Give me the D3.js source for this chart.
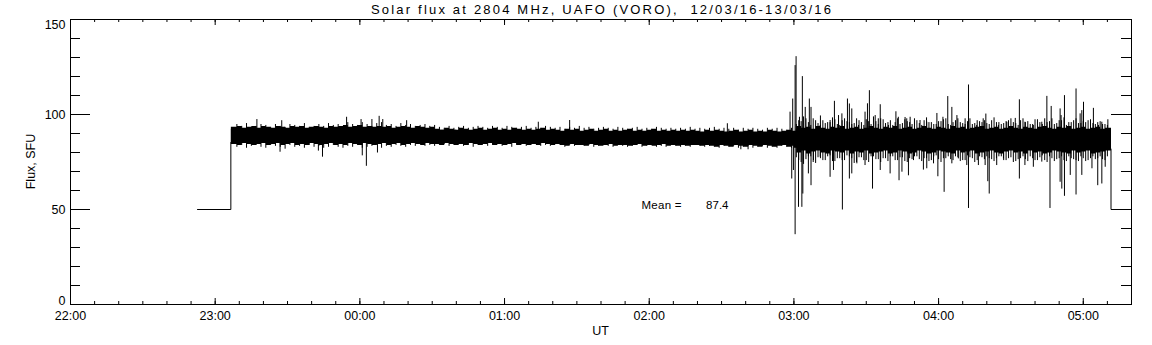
<!DOCTYPE html>
<html><head><meta charset="utf-8">
<script src="https://cdn.jsdelivr.net/npm/d3@7"></script>
<style>
body{margin:0;background:#fff;}
svg text{font-family:"Liberation Sans",Arial,sans-serif;fill:#000;white-space:pre;}
</style></head><body>
<svg id="c" width="1152" height="345"></svg>
<script>
// ---------------- data ----------------
const title = "Solar flux at 2804 MHz, UAFO (VORO),  12/03/16-13/03/16";
const yTitle = "Flux, SFU";
const xTitle = "UT";
const meanText = "Mean =";
const meanValue = 87.4;
const yMajorTicks = [0, 50, 100, 150];
const yMinorStep = 10;
const startUTC = Date.UTC(2016, 2, 12, 22, 0);   // 22:00 UT, 12/03/16
const endMinutes = 440;                           // 05:20 UT
// reference level (before / after the observation), minutes after 22:00
const offLevel = 50;
const offBefore = [52.5, 66.5];
const offAfter = [431.5, 440];
const obsStart = 66.5, obsEnd = 431.5;
// solid core of the noise band, per 10-minute bin starting at minute 60 (23:00)
const coreBinStart = 60, coreBinStep = 10;
const coreHigh = [92.5,92.5,92,92.5,92.5,92.5,93,92.5,92,92,
                  91.5,91.5,91.5,91.5,91,91,91,90.5,90.5,90.5,
                  90.5,90.5,90,90,91,90.5,90.5,90.5,91,90.5,
                  90,90.5,90.5,90,90.5,90,90.5,90.5];
const coreLow  = [85.5,85.5,85.5,85,85.5,85.5,85,85.5,85.5,85.5,
                  85.5,85.5,85,85.5,85,85,85,84.5,84.5,84.5,
                  84.5,84.5,84.5,84.5,82.5,83,82.5,82.5,82,82.5,
                  82,82,81.5,82,82,81.5,82,82];
// outer edge of the dense band, per 2-minute bin from minute 68 (23:08)
const edgeStart = 68, edgeStep = 2;
const edgeHigh = [
 93.5,94,93,93.5,94,93,94,93.5,93,94, 93.5,93,94,93.5,94,93,93.5,94,93.5,93,
 94,93.5,94,94.5,93.5,94,94.5,93.5,94,93.5, 94,93.5,94,93,93.5,94,93.5,93,94,93.5,
 93,93.5,
 92.5,92,93,92.5,92,93,92.5,92,92.5,93, 92,92.5,93,92,92.5,92,93,92.5,92,92.5,
 92,92.5,93,92,92.5,92,91.5,92.5,92,92.5, 91.5,92,92.5,91.5,92,92.5,91.5,92,91.5,92,
 92.5,91.5,92,91.5,92,92.5,91.5,92,91.5,92, 91.5,92,91.5,92,91.5,91,92,91.5,92,91.5,
 91,91.5,92,91,91.5,92,91,91.5,91,92, 91.5,91,91.5,92,91.5,
 94,93,93.5,92.5,94,93,92.5,93.5,93,94, 92.5,93,93.5,92.5,93,94,93,92.5,93.5,93,
 94,92.5,93,93.5,92.5,93,94,93,92.5,93.5, 93,92.5,94,93,93.5,92.5,93,93.5,94,92.5,
 93,93.5,92.5,93,94,93,92.5,93.5,93,92.5, 93.5,94,93,92.5,93.5,93,94,92.5,93,93.5,
 92.5,93,93.5,92.5,93];
const edgeLow = [
 84.5,84,85,84.5,84,84.5,85,84,84.5,85, 84,84.5,85,84,84.5,84,85,84.5,84,84.5,
 85,84,84.5,84,85,84.5,84,85,84.5,84, 84.5,85,84,84.5,85,84,84.5,85,84.5,84,
 85,84.5,
 84.5,84,85,84.5,84,84.5,84,85,84.5,84, 84.5,85,84,84.5,84,84.5,85,84,84.5,84,
 84.5,84,85,84.5,84,84.5,84,83.5,84.5,84, 84,83.5,84.5,84,83.5,84,84.5,83.5,84,84,
 83.5,84,84.5,83.5,84,83.5,84,84.5,83.5,84, 83.5,84,83.5,84,84,83.5,84,83.5,83,84,
 83.5,83,84,83.5,83,84,83.5,83,84,83.5, 83,83.5,84,83,83.5,
 80,81,79.5,80.5,81,80,79.5,81,80.5,80, 81,79.5,80.5,80,81,79.5,80,80.5,81,79.5,
 80,81,80.5,79.5,80,81,80.5,79.5,80,81, 80.5,80,79.5,81,80,80.5,81,79.5,80,80.5,
 81,80,79.5,80.5,81,80,80.5,79.5,81,80, 80.5,79.5,80,81,80.5,80,79.5,81,80,80.5,
 81,79.5,80,80.5,81];
// ragged tips of the quiet band, per 2 minutes from minute 69 (23:09) to 03:00
const tipStart = 69, tipStep = 2;
const tipHigh = [
 95,94,95.5,93.5,94,95,94.5,93.5,95,94, 93.5,95,94.5,94,95.5,93.5,94,95,94,95.5,
 94.5,95,94,96,95,94.5,96,95,94,95.5, 96,94.5,95,94,95.5,94.5,95,94,94.5,95,
 94,94.5,
 93.5,93,94,93,93.5,94,93,93.5,94,93.5, 93,94,93.5,93,94,93.5,93,93.5,94,93,
 93.5,93,94,93.5,93,93.5,92.5,93.5,93,94, 93,93.5,92.5,93,93.5,93,92.5,93.5,93,92.5,
 93,93.5,92.5,93,92.5,93.5,93,92.5,93,92.5, 93,92.5,93.5,92.5,93,92.5,93,93.5,92.5,93,
 92.5,93,92,93,92.5,93,92.5,92,93,92.5, 93,92.5,92,93,92.5];
const tipLow = [
 83,84,82.5,83.5,84,83,82.5,84,83.5,83, 82,84,83,83.5,82.5,84,83,83.5,82.5,83,
 84,83,82.5,83.5,83,84,82.5,83,83.5,84, 82.5,83.5,83,84,83.5,83,84,83.5,84.5,83.5,
 84,83.5,
 84,84.5,83.5,84,84.5,83.5,84,83,84,84.5, 83.5,84,84.5,83.5,84,83,84,84.5,83.5,84,
 84.5,83.5,84,83.5,84.5,84,83,84,83.5,84, 83.5,84,83,83.5,84,83.5,83,84,83.5,83,
 83.5,84,83,83.5,84,83,83.5,83,84,83.5, 83,83.5,83,84,83.5,83,83.5,83,82.5,83.5,
 83,83.5,82.5,83,83.5,82.5,83,83.5,82.5,83, 82.5,83.5,83,82.5,83];
// per-minute excursions during the active period, from minute 301 (03:01)
const burstStart = 301, burstStep = 1;
const burstHigh = [
 95,97, 96.5,99, 98,96, 94.5,98, 97,95.5, 99.5,97, 95.5,96, 96,98.5, 97.5,95, 94.5,97,
 98,96.5, 96,95, 95.5,98, 97,96, 94.5,97.5, 96.5,95, 99,96.5, 95,98, 97.5,95.5, 96,97,
 94.5,96, 98,95, 95.5,97.5, 96.5,96, 95,98, 97,95.5, 94.5,97, 98.5,96, 96,95, 95,96.5,
 96.5,97.5, 98,95, 94.5,96, 97,98, 96,95.5, 95,96.5, 98,95, 95.5,97, 96.5,96, 97,95.5,
 95,97, 98.5,96, 96,95, 95.5,96.5, 97,98, 96,95.5, 94.5,97, 98,96, 96.5,95, 95,97.5,
 97.5,96, 95,98, 96,96.5, 98,95, 95.5,97, 97,98.5, 94.5,96, 96,97, 98,95.5, 95.5,96.5,
 96,97, 97.5,95.5, 95,96, 96.5,95, 95,94.5];
const burstLow = [
 77.5,76, 75,74, 76.5,78, 78,75, 74.5,77.5, 77,76, 76,78, 78.5,75.5, 75.5,77, 77,76,
 76,78.5, 78,77, 74.5,75, 77.5,77.5, 76,76, 75,78, 78,76.5, 76.5,75, 77,77, 75.5,78,
 78,76, 76,77.5, 77.5,75.5, 75,77, 76.5,78, 78,76.5, 75.5,77, 77,75.5, 76,78, 78.5,76.5,
 75,77, 77,78, 76.5,76, 78,77.5, 75.5,76, 76,78.5, 77.5,77, 75,76, 78,77.5, 76.5,78,
 77,76.5, 75.5,77, 78,78, 76,76, 77,77.5, 75,75.5, 76.5,77, 78,76.5, 75.5,78, 77,76,
 76,77.5, 78.5,76, 75,78, 77,75.5, 76.5,77, 78,76, 75.5,78, 77,76.5, 76,75.5, 78,77,
 75.5,76, 77,78, 76.5,77, 78,76.5, 76,78];
// individual spikes: minutes after 22:00 and flux value
const spikeMinutes = [
 77.3,87.6,114.5,120.5,125,128,129.5,139.4,194,207,272.4,
 86.9,102.8,104.5,121,122.7,127.3,278,281,
 298.4,299.5,300.5,300.9,302.3,303.5,304.7,306.4,307.1,310.9,315,316.8,318.5,319.9,322.2,323,324,326.8,
 329.5,330.5,331.3,333.7,335,335.8,339.2,342.3,343.3,346.1,346.8,348.2,352.3,355.1,359.3,361.8,363.8,
 365.5,367.6,371,372.4,375.8,378.5,379.6,384.8,388.3,391.8,393.5,395.8,399.3,402.8,404.9,406.7,410.4,
 410.8,412.2,417,418.7,419.4,420.1,424.2,426.3,427.7,430.2,
 299.1,299.8,300.5,301.9,303.3,303.7,306,307.1,308.1,310.9,315,316.4,320.1,323,324,326.1,329.5,332.6,
 335.8,339.9,343.6,344.8,347.5,349.6,353.7,355.1,357.9,359.7,362.3,365.5,368.2,371.7,372.4,376.5,
 379.3,380.4,381,384.1,386.9,393.5,395.8,399.3,402.8,406.2,410.4,411.1,412.2,414.6,417,419.4,423.6,
 426,427.7,429.1];
const spikeValues = [
 97.6,97,98.8,97.6,97.6,99.3,97.6,97,96.2,97.1,95.4,
 80.4,81,77.8,78.5,73,80,81.7,81.7,
 101.5,108.4,126,130.7,98.8,120.2,104,108.4,104,94.5,97.1,107.2,99.7,100.6,108.4,105.8,103.2,94.5,
 101.5,105.9,112.8,99.7,98,105.4,94.5,101.7,98.8,98.7,98,98.8,97.1,96.2,100.8,98.8,109.7,
 104,99.7,98,115.8,94.5,98,100.5,94.5,96.2,98.2,108,96.2,94.5,96.2,109.8,104.5,103.2,
 99.7,110.2,113.7,100.6,102.3,106.7,103.5,94.5,96.2,97.5,
 66.3,70.8,37,51.4,51.4,58.4,69,62.8,76,77.8,67.2,70.8,50,66.3,69,74.3,73.4,61,
 70.8,69,65.4,69.9,68,76,71,71.7,74.3,67.5,59.3,74.3,76.9,73.4,50.8,73.4,
 73.4,64.9,58.4,73.4,76.9,66.3,73.4,72.5,75.2,50.8,64.6,61,57.2,68.2,57.9,68.2,71.7,
 62.8,63.7,72.5];

// ---------------- chart ----------------
const L = 70, R = 1131, T = 19, B = 304;
const svg = d3.select("#c");
const toDate = m => new Date(startUTC + m * 60000);
const x = d3.scaleUtc().domain([toDate(0), toDate(endMinutes)]).range([L, R]);
const y = d3.scaleLinear().domain([0, 150]).range([B, T]);
const xm = m => x(toDate(m));

const data = svg.append("g").attr("transform", "translate(0.5,0.5)");
data.append("clipPath").attr("id", "clip").append("rect")
  .attr("x", L).attr("y", T).attr("width", R - L).attr("height", B - T);
const g = data.append("g").attr("clip-path", "url(#clip)");

const stepArea = d3.area().curve(d3.curveStepAfter)
  .x(d => xm(d.t)).y0(d => y(d.lo)).y1(d => y(d.hi));

// outer edge of band (step area)
const edgePts = edgeHigh.map((h, i) => ({t: edgeStart + i * edgeStep - 1, hi: h, lo: edgeLow[i]}));
edgePts[0].t = obsStart;
edgePts.push({t: obsEnd, hi: edgeHigh[edgeHigh.length - 1], lo: edgeLow[edgeLow.length - 1]});
g.append("path").datum(edgePts).attr("d", stepArea).attr("fill", "#000");

// solid core
const corePts = coreHigh.map((h, i) => ({
  t: Math.max(coreBinStart + i * coreBinStep, obsStart), hi: h, lo: coreLow[i]
}));
corePts.push({t: obsEnd, hi: coreHigh[coreHigh.length - 1], lo: coreLow[coreLow.length - 1]});
g.append("path").datum(corePts).attr("d", stepArea).attr("fill", "#000");

// vertical excursion lines (ragged tips and active-period bursts)
const vlines = (vals, lows, t0, dt) => g.append("g").selectAll("line").data(vals).join("line")
  .attr("x1", (d, i) => xm(t0 + i * dt)).attr("x2", (d, i) => xm(t0 + i * dt))
  .attr("y1", d => y(d)).attr("y2", (d, i) => y(lows[i]))
  .attr("stroke", "#000").attr("stroke-width", 1);
vlines(tipHigh, tipLow, tipStart, tipStep);
vlines(burstHigh, burstLow, burstStart, burstStep);

// spikes
const midAt = m => {
  const i = Math.min(coreHigh.length - 1, Math.max(0, Math.floor((m - coreBinStart) / coreBinStep)));
  return (coreHigh[i] + coreLow[i]) / 2;
};
g.append("g").selectAll("line").data(spikeMinutes).join("line")
  .attr("x1", d => xm(d)).attr("x2", d => xm(d))
  .attr("y1", d => y(midAt(d))).attr("y2", (d, i) => y(spikeValues[i]))
  .attr("stroke", "#000").attr("stroke-width", 1);

// reference level before / after
const ln = d3.line().x(d => xm(d[0])).y(d => y(d[1]));
g.append("path").attr("d", ln([[offBefore[0], offLevel], [offBefore[1], offLevel], [obsStart, coreLow[0]]]))
  .attr("fill", "none").attr("stroke", "#000").attr("stroke-width", 1);
g.append("path").attr("d", ln([[obsEnd, coreLow[coreLow.length - 1]], [offAfter[0], offLevel], [offAfter[1], offLevel]]))
  .attr("fill", "none").attr("stroke", "#000").attr("stroke-width", 1);

// frame
svg.append("rect").attr("x", L + 0.5).attr("y", T + 0.5).attr("width", R - L).attr("height", B - T)
  .attr("fill", "none").attr("stroke", "#000").attr("stroke-width", 1);

// axes
const fmt = d3.utcFormat("%H:%M");
const styleAxis = sel => { sel.select(".domain").remove(); sel.selectAll("line").attr("stroke", "#000"); };
const fs = "12.5px";

const xb = svg.append("g").attr("transform", `translate(0,${B})`)
  .call(d3.axisBottom(x).ticks(d3.utcHour.every(1)).tickFormat(fmt).tickSize(-6).tickPadding(7))
  .call(styleAxis);
xb.selectAll("text").attr("font-size", fs).attr("font-family", null);
svg.append("g").attr("transform", `translate(0,${B})`)
  .call(d3.axisBottom(x).ticks(d3.utcMinute.every(10)).tickFormat("").tickSize(-3)).call(styleAxis);
svg.append("g").attr("transform", `translate(0,${T})`)
  .call(d3.axisTop(x).ticks(d3.utcHour.every(1)).tickFormat("").tickSize(-6)).call(styleAxis);
svg.append("g").attr("transform", `translate(0,${T})`)
  .call(d3.axisTop(x).ticks(d3.utcMinute.every(10)).tickFormat("").tickSize(-3)).call(styleAxis);

const yl = svg.append("g").attr("transform", `translate(${L},0)`)
  .call(d3.axisLeft(y).tickValues(yMajorTicks).tickSize(-20).tickPadding(4.5))
  .call(styleAxis);
yl.selectAll("text").attr("font-size", fs).attr("font-family", null)
  .attr("dy", d => d === 0 ? "0em" : d === 150 ? "0.72em" : "0.35em");
const yMinor = d3.range(0, 151, yMinorStep);
svg.append("g").attr("transform", `translate(${L},0)`)
  .call(d3.axisLeft(y).tickValues(yMinor).tickFormat("").tickSize(-10)).call(styleAxis);
svg.append("g").attr("transform", `translate(${R},0)`)
  .call(d3.axisRight(y).tickValues(yMajorTicks).tickFormat("").tickSize(-20)).call(styleAxis);
svg.append("g").attr("transform", `translate(${R},0)`)
  .call(d3.axisRight(y).tickValues(yMinor).tickFormat("").tickSize(-10)).call(styleAxis);

// titles
svg.append("text").attr("x", (L + R) / 2 + 0.5).attr("y", 13.5).attr("text-anchor", "middle")
  .attr("font-size", "13px").attr("textLength", 460).attr("lengthAdjust", "spacing").text(title);
svg.append("text").attr("transform", `translate(35,${(T + B) / 2}) rotate(-90)`)
  .attr("text-anchor", "middle").attr("font-size", fs).text(yTitle);
svg.append("text").attr("x", (L + R) / 2).attr("y", 335).attr("text-anchor", "middle")
  .attr("font-size", fs).text(xTitle);

// mean annotation
svg.append("text").attr("x", 641.5).attr("y", 208.5).attr("font-size", "11.5px")
  .attr("textLength", 40).text(meanText);
svg.append("text").attr("x", 728.5).attr("y", 208.5).attr("font-size", "11.5px")
  .attr("text-anchor", "end").text(d3.format(".1f")(meanValue));
</script>
</body></html>
